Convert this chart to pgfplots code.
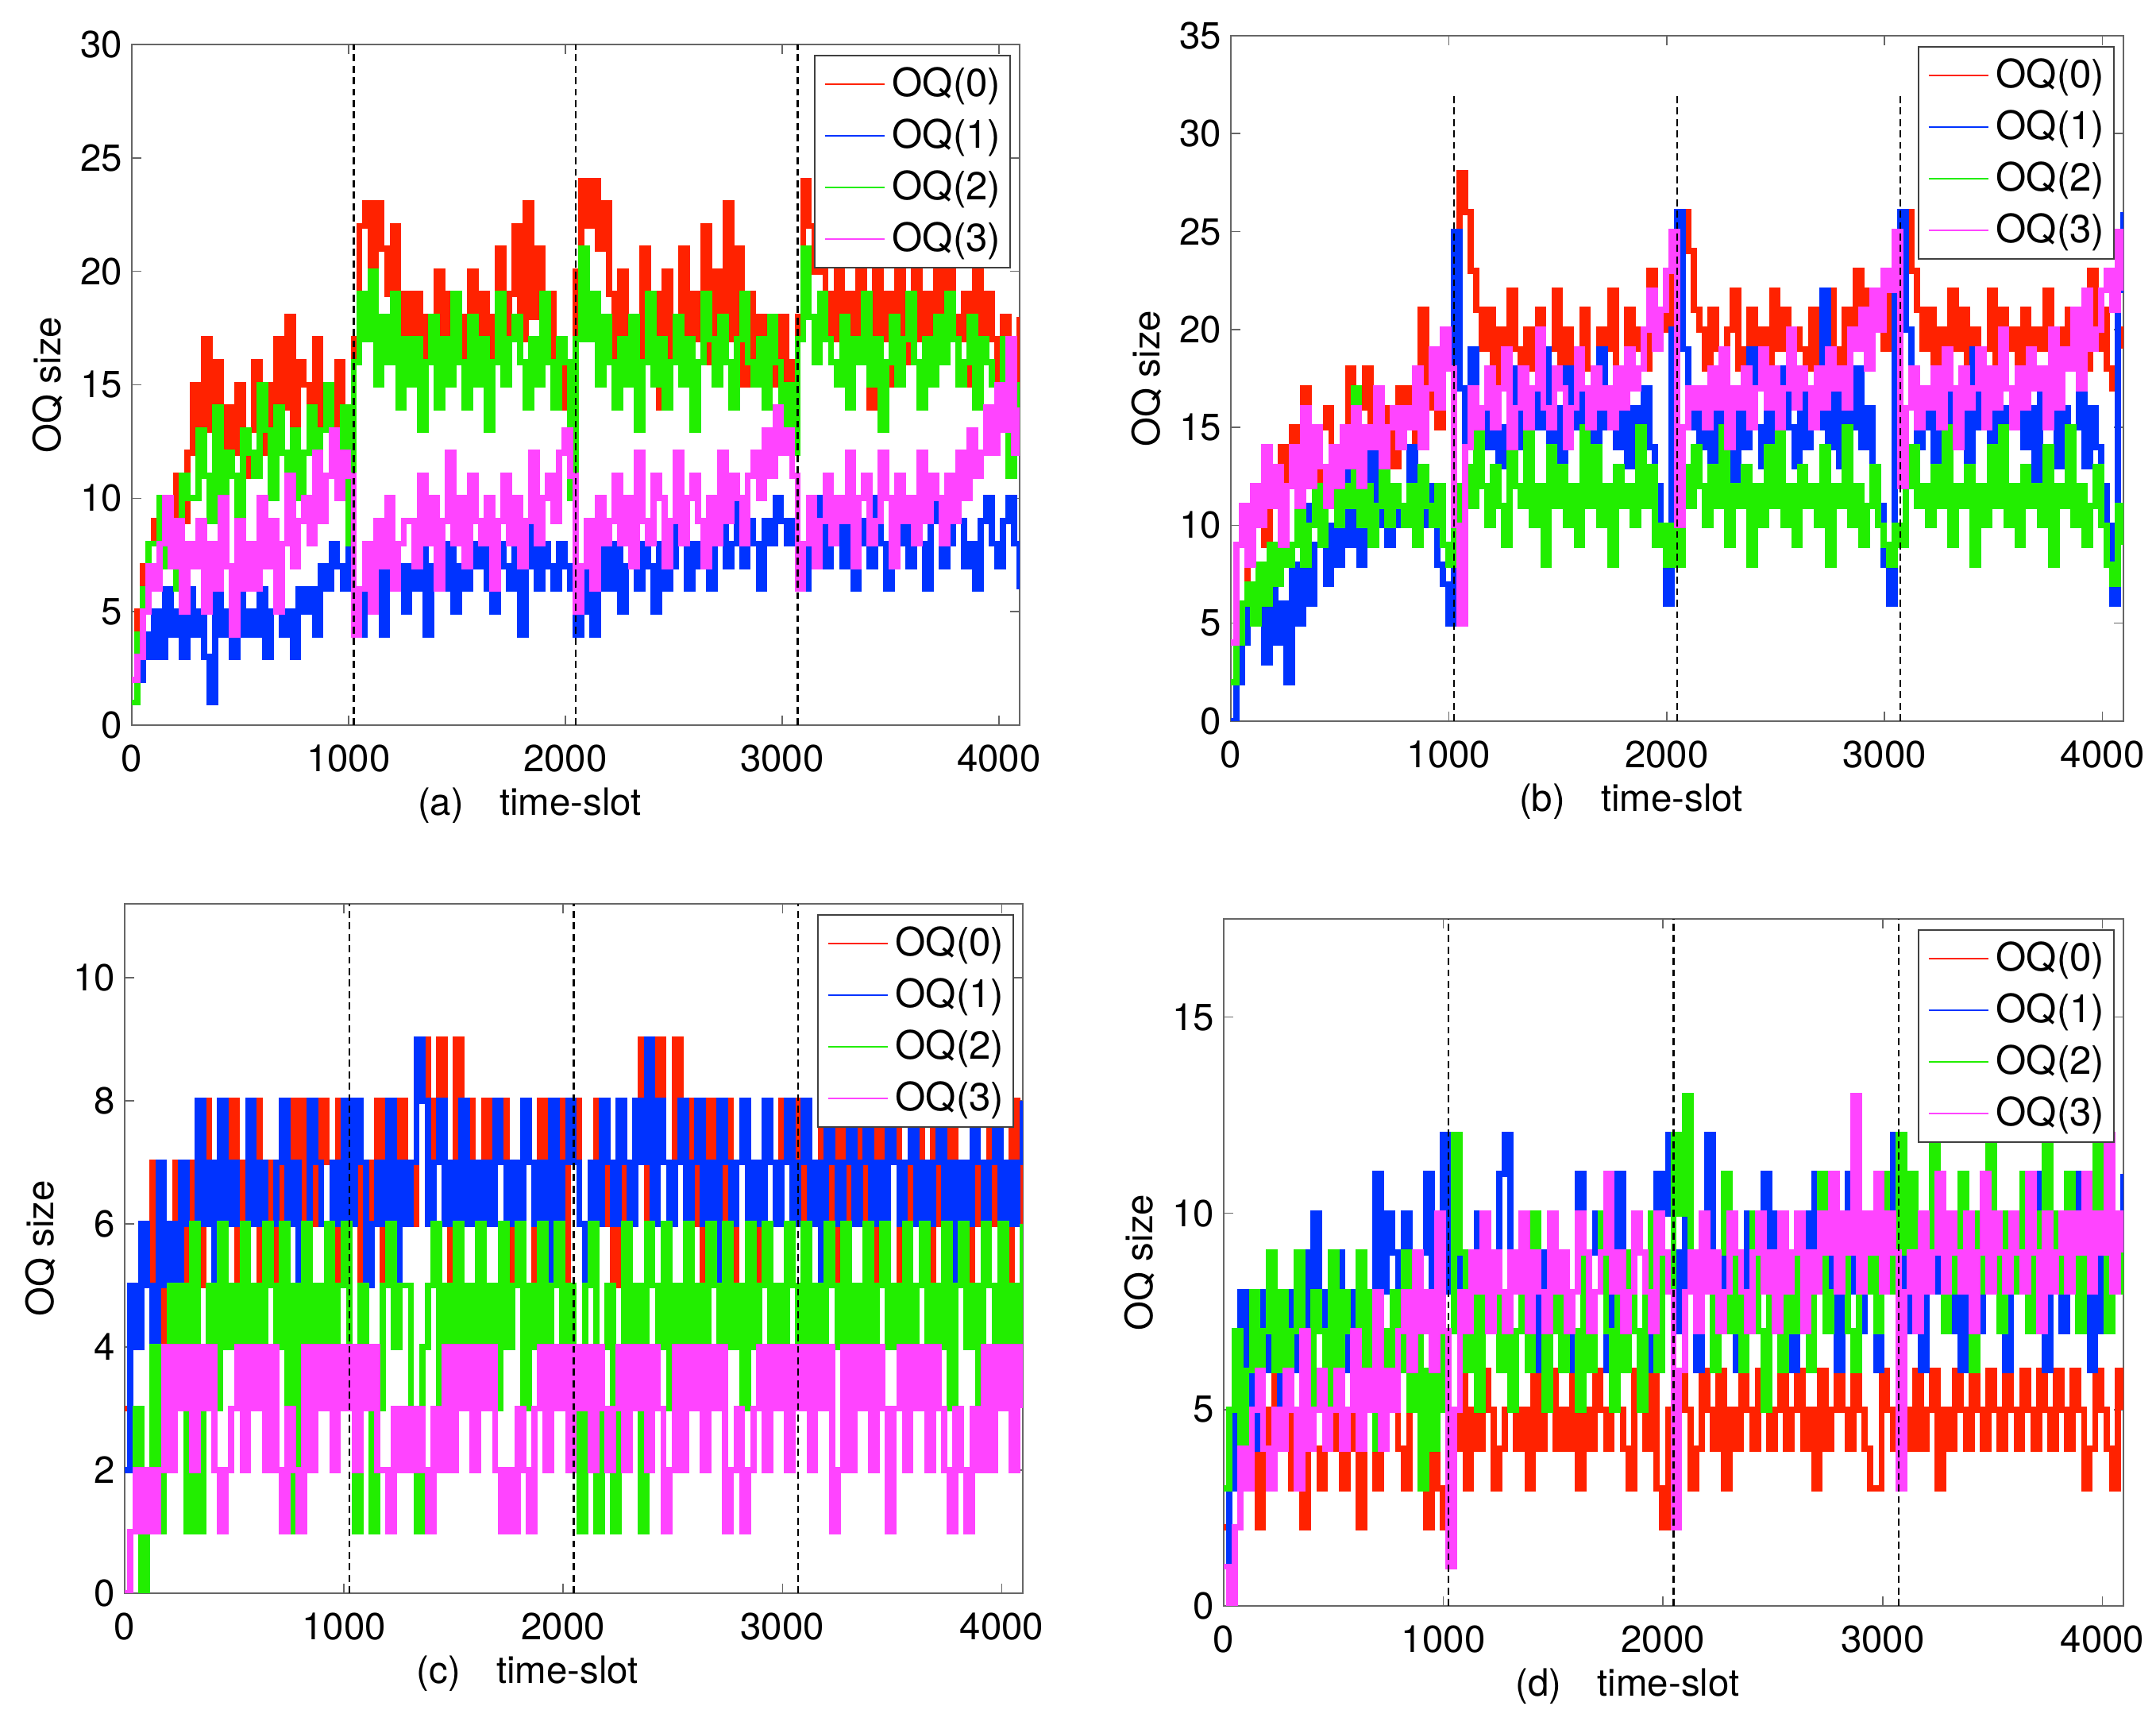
\documentclass[border=0pt]{standalone}
\usepackage{pgfplots}
\pgfplotsset{compat=1.18}
\usepackage{fontspec}
\setmainfont{TeX Gyre Heros}
\definecolor{cR}{RGB}{255,34,0}
\definecolor{cB}{RGB}{0,51,255}
\definecolor{cG}{RGB}{34,238,0}
\definecolor{cM}{RGB}{255,68,255}
\newcommand{\fs}{\fontsize{13.5}{16}\selectfont}
\newcommand{\fl}{\fontsize{14}{16}\selectfont}
\newcommand{\oq}[2]{\addplot[const plot, draw=#1, line width=2.2pt] table[x expr=\coordindex*25.6, y index=0, header=false, row sep=\\]{#2};}
\newcommand{\dl}[1]{\addplot[black, line width=0.6pt, dash pattern=on 2.5pt off 1.6pt, forget plot] coordinates {(1024,0) (1024,#1)};
\addplot[black, line width=0.6pt, dash pattern=on 2.5pt off 1.6pt, forget plot] coordinates {(2048,0) (2048,#1)};
\addplot[black, line width=0.6pt, dash pattern=on 2.5pt off 1.6pt, forget plot] coordinates {(3072,0) (3072,#1)};}
\pgfplotsset{oq/.style={
  scale only axis, xmin=0, xmax=4096, ymin=0,
  xtick={0,1000,2000,3000,4000},
  tick align=inside, major tick length=0.12cm,
  axis line style={black!60, line width=0.45pt},
  every tick/.style={black!60, line width=0.45pt},
  /pgf/number format/assume math mode=true,
  /pgf/number format/1000 sep={},
  scaled ticks=false,
  tick label style={font=\fs},
  xticklabel style={anchor=center, yshift=-0.42cm},
  yticklabel style={anchor=east, inner sep=0pt, xshift=-0.11cm},
  ylabel={OQ size},
  ylabel style={font=\fs, at={([xshift=-1.06cm]axis description cs:0,0.5)}, anchor=center},
  xlabel style={font=\fs, at={([xshift=-0.58cm,yshift=-1.01cm]axis description cs:0.5,0)}, anchor=center},
  legend style={at={(1,1)}, anchor=north east, xshift=-0.11cm, yshift=-0.13cm, draw=black!75, line width=0.45pt, font=\fl, inner xsep=0.12cm, inner ysep=0.12cm, row sep=0.17cm, column sep=0.09cm, nodes={inner sep=0pt, text height=0.40cm, text depth=0.08cm}},
  legend cell align=left,
  legend image code/.code={\draw[##1, line width=0.5pt] (0cm,0cm) -- (0.75cm,0cm);},
}}
\begin{document}
\begin{tikzpicture}
\path[use as bounding box] (0,0) rectangle (27.15,21.82);
% ---------------- (a)
\begin{axis}[oq, at={(1.66cm,12.69cm)}, anchor=south west, width=11.18cm, height=8.57cm,
  ymax=30, ytick={0,5,...,30}, xlabel={(a)\hspace{0.45cm}time-slot}]
\oq{cR}{2\\5\\7\\8\\ 9\\7\\10\\8\\11\\9\\12\\ 15\\11\\17\\13\\16\\10\\14\\12\\15\\11\\ 13\\16\\12\\15\\11\\17\\14\\18\\13\\16\\ 15\\12\\17\\13\\14\\11\\16\\13\\6\\
17\\22\\23\\20\\23\\21\\19\\22\\17\\19\\
16\\19\\14\\18\\17\\20\\15\\19\\16\\18\\14\\20\\17\\19\\15\\18\\21\\16\\19\\22\\17\\23\\18\\21\\16\\19\\15\\17\\14\\ 10\\
20\\24\\22\\24\\21\\23\\
19\\16\\20\\17\\18\\15\\21\\17\\19\\14\\20\\16\\18\\21\\15\\19\\17\\22\\16\\20\\18\\23\\17\\21\\15\\19\\16\\18\\14\\17\\15\\18\\13\\
16\\18\\24\\22\\20\\23\\19\\
17\\20\\15\\19\\16\\21\\18\\14\\20\\17\\19\\15\\21\\16\\18\\20\\17\\19\\15\\20\\16\\21\\18\\17\\19\\15\\20\\16\\19\\17\\14\\18\\16\\15\\18\\}
\oq{cB}{1\\2\\4\\3\\ 5\\3\\6\\4\\5\\3\\6\\ 4\\5\\3\\1\\6\\4\\5\\3\\6\\4\\ 5\\4\\6\\3\\5\\6\\4\\5\\3\\6\\ 5\\6\\4\\7\\6\\8\\7\\6\\8\\
5\\4\\6\\5\\7\\4\\8\\6\\7\\5\\
7\\6\\8\\4\\7\\9\\6\\8\\5\\7\\6\\8\\7\\9\\6\\5\\8\\7\\6\\8\\4\\7\\9\\6\\8\\7\\6\\8\\7\\ 6\\
4\\5\\7\\4\\6\\8\\
6\\8\\5\\7\\9\\6\\8\\7\\5\\8\\6\\7\\9\\8\\6\\8\\7\\9\\6\\8\\9\\7\\8\\10\\7\\9\\8\\6\\9\\8\\10\\9\\8\\
9\\7\\6\\9\\8\\10\\7\\
8\\9\\7\\10\\6\\8\\9\\7\\10\\8\\6\\9\\8\\10\\7\\9\\8\\6\\10\\9\\7\\8\\10\\9\\7\\8\\6\\9\\10\\8\\7\\9\\10\\8\\6\\}
\oq{cG}{1\\4\\6\\8\\ 8\\10\\7\\9\\6\\11\\10\\ 10\\13\\11\\9\\14\\10\\12\\11\\8\\13\\ 12\\11\\15\\13\\10\\14\\12\\11\\13\\10\\ 12\\14\\11\\13\\15\\12\\10\\14\\8\\
16\\19\\17\\20\\15\\18\\16\\19\\14\\17\\
15\\17\\13\\16\\18\\14\\17\\15\\19\\16\\14\\18\\15\\17\\13\\16\\19\\15\\17\\18\\16\\14\\17\\15\\19\\16\\14\\17\\16\\ 10\\
17\\21\\17\\19\\15\\18\\
16\\14\\17\\15\\18\\13\\16\\19\\15\\17\\14\\16\\18\\15\\17\\13\\16\\19\\17\\15\\18\\16\\14\\17\\19\\16\\15\\17\\14\\18\\16\\13\\15\\
12\\17\\21\\18\\16\\19\\17\\
16\\15\\18\\14\\17\\16\\19\\15\\17\\13\\16\\18\\15\\17\\19\\16\\14\\17\\15\\18\\16\\19\\17\\15\\16\\18\\14\\17\\16\\15\\13\\17\\11\\15\\12\\}
\oq{cM}{2\\3\\5\\7\\ 6\\8\\10\\7\\9\\5\\8\\ 7\\9\\5\\8\\6\\10\\7\\4\\9\\6\\ 8\\6\\10\\7\\9\\5\\8\\11\\7\\9\\ 10\\8\\12\\9\\11\\13\\10\\12\\11\\
4\\6\\8\\5\\9\\7\\10\\6\\8\\9\\
9\\7\\11\\8\\10\\6\\9\\12\\8\\10\\7\\11\\9\\8\\10\\6\\9\\11\\8\\10\\7\\9\\12\\8\\10\\11\\9\\12\\13\\
11\\5\\7\\9\\6\\10\\8\\
9\\11\\8\\10\\7\\12\\9\\8\\11\\10\\7\\9\\12\\8\\10\\11\\9\\7\\10\\8\\12\\9\\11\\10\\8\\11\\12\\10\\13\\11\\14\\12\\13\\
11\\6\\8\\10\\7\\9\\11\\
8\\10\\9\\12\\7\\10\\11\\8\\9\\12\\10\\7\\11\\9\\10\\8\\12\\9\\11\\10\\8\\11\\9\\12\\10\\13\\11\\12\\14\\12\\15\\13\\17\\12\\14\\}
\dl{30}
\legend{OQ(0),OQ(1),OQ(2),OQ(3)}
\end{axis}
% ---------------- (b)
\begin{axis}[oq, at={(15.50cm,12.74cm)}, anchor=south west, width=11.24cm, height=8.63cm,
  ymax=35, ytick={0,5,...,35}, xlabel={(b)\hspace{0.45cm}time-slot}]
\oq{cR}{0\\3\\6\\8\\ 10\\12\\9\\13\\11\\14\\12\\ 15\\13\\17\\14\\12\\15\\16\\14\\13\\15\\ 18\\14\\16\\18\\15\\17\\14\\16\\13\\17\\ 15\\17\\14\\21\\16\\18\\15\\19\\20\\
24\\28\\26\\23\\21\\
19\\21\\17\\20\\18\\22\\19\\16\\20\\18\\21\\17\\19\\22\\18\\20\\17\\19\\21\\18\\16\\20\\19\\22\\18\\17\\21\\19\\20\\18\\23\\19\\21\\20\\
24\\26\\26\\24\\21\\
20\\18\\21\\19\\17\\20\\22\\18\\19\\21\\17\\20\\18\\22\\19\\21\\17\\20\\19\\18\\21\\17\\20\\22\\19\\18\\21\\20\\23\\19\\22\\21\\20\\19\\22\\
24\\26\\26\\23\\21\\
19\\21\\18\\20\\17\\22\\19\\21\\18\\20\\17\\19\\22\\18\\21\\19\\20\\17\\21\\18\\20\\19\\22\\17\\20\\18\\21\\19\\20\\18\\23\\19\\21\\18\\17\\20\\19\\}
\oq{cB}{0\\2\\4\\6\\ 5\\7\\3\\8\\4\\6\\2\\ 8\\5\\11\\6\\9\\12\\7\\10\\8\\13\\ 9\\12\\8\\11\\14\\10\\13\\9\\12\\10\\ 11\\14\\9\\13\\10\\12\\8\\7\\5\\
25\\17\\14\\19\\15\\
16\\14\\17\\13\\15\\18\\14\\16\\12\\17\\15\\19\\14\\16\\13\\18\\15\\17\\14\\16\\12\\19\\15\\17\\14\\18\\13\\16\\15\\17\\14\\12\\10\\6\\
20\\26\\19\\15\\17\\
14\\16\\13\\18\\15\\17\\12\\16\\14\\19\\15\\13\\17\\14\\16\\18\\15\\13\\17\\14\\16\\15\\22\\14\\17\\13\\16\\15\\18\\14\\16\\13\\11\\8\\6\\
22\\26\\20\\16\\14\\
15\\17\\13\\16\\18\\14\\15\\17\\13\\19\\15\\16\\14\\18\\13\\16\\15\\17\\14\\16\\12\\18\\15\\17\\13\\16\\14\\15\\17\\13\\16\\14\\12\\10\\6\\22\\26\\}
\oq{cG}{2\\4\\6\\7\\ 5\\8\\6\\9\\7\\10\\8\\ 9\\11\\8\\10\\12\\9\\11\\13\\10\\12\\ 11\\17\\10\\12\\9\\11\\13\\10\\12\\11\\ 10\\12\\9\\13\\11\\10\\12\\9\\8\\
12\\10\\13\\11\\15\\
12\\10\\13\\11\\9\\14\\12\\11\\15\\10\\12\\8\\14\\11\\13\\10\\12\\9\\15\\11\\14\\10\\12\\8\\13\\11\\12\\10\\15\\11\\13\\9\\10\\8\\
10\\8\\13\\11\\14\\
12\\10\\13\\11\\15\\9\\12\\11\\13\\8\\12\\10\\14\\11\\15\\10\\12\\9\\13\\11\\12\\10\\14\\8\\12\\11\\15\\10\\12\\9\\11\\13\\10\\9\\8\\
10\\9\\12\\14\\11\\
12\\10\\13\\11\\15\\9\\12\\11\\13\\8\\12\\10\\14\\11\\15\\10\\12\\9\\13\\11\\12\\10\\14\\8\\12\\11\\15\\10\\12\\9\\11\\13\\10\\8\\7\\11\\9\\}
\oq{cM}{4\\9\\11\\8\\ 12\\10\\14\\11\\13\\9\\12\\ 14\\11\\16\\12\\15\\13\\11\\14\\12\\15\\ 13\\16\\12\\15\\14\\17\\13\\15\\16\\14\\ 16\\15\\18\\14\\17\\19\\16\\20\\18\\
10\\5\\14\\17\\15\\
16\\18\\15\\17\\19\\14\\16\\18\\15\\17\\20\\16\\15\\18\\17\\14\\16\\19\\17\\15\\18\\16\\17\\15\\18\\16\\19\\17\\18\\20\\22\\19\\21\\23\\
25\\10\\15\\17\\16\\
17\\15\\18\\16\\19\\14\\17\\16\\18\\15\\17\\19\\16\\18\\15\\17\\20\\16\\18\\17\\15\\18\\16\\19\\17\\18\\16\\20\\19\\21\\18\\22\\20\\23\\22\\
25\\12\\16\\18\\15\\
17\\16\\18\\15\\19\\17\\14\\18\\16\\17\\19\\15\\18\\16\\20\\17\\15\\18\\16\\19\\17\\18\\15\\20\\16\\19\\18\\21\\17\\22\\19\\20\\22\\23\\21\\25\\22\\}
\dl{32}
\legend{OQ(0),OQ(1),OQ(2),OQ(3)}
\end{axis}
% ---------------- (c)
\begin{axis}[oq, at={(1.57cm,1.76cm)}, anchor=south west, width=11.31cm, height=8.68cm,
  ymax=11.2, ytick={0,2,...,10}, xlabel={(c)\hspace{0.45cm}time-slot}]
\oq{cR}{3\\5\\4\\6\\5\\7\\4\\6\\5\\7\\ 6\\4\\7\\5\\8\\6\\5\\7\\6\\8\\ 5\\7\\6\\8\\5\\7\\6\\4\\7\\8\\ 6\\8\\5\\7\\6\\8\\7\\5\\8\\6\\
7\\8\\5\\7\\6\\8\\5\\7\\6\\8\\ 7\\6\\8\\9\\6\\8\\9\\7\\5\\9\\ 6\\8\\7\\5\\8\\6\\7\\8\\5\\7\\ 6\\8\\7\\5\\8\\7\\6\\8\\5\\7\\
8\\6\\5\\7\\8\\6\\7\\5\\8\\6\\ 7\\8\\9\\6\\8\\9\\7\\6\\9\\7\\ 8\\6\\7\\5\\8\\7\\6\\8\\5\\7\\ 8\\6\\7\\5\\8\\7\\6\\8\\7\\6\\
8\\5\\7\\6\\8\\7\\5\\8\\6\\7\\ 8\\6\\7\\5\\8\\6\\7\\8\\5\\7\\ 6\\8\\7\\5\\8\\6\\7\\8\\6\\7\\ 5\\8\\6\\7\\8\\6\\7\\5\\8\\7\\6\\}
\oq{cB}{2\\5\\4\\6\\5\\4\\7\\5\\6\\5\\ 7\\6\\5\\8\\6\\7\\5\\8\\6\\7\\ 6\\5\\8\\6\\7\\5\\6\\7\\8\\6\\ 7\\5\\6\\8\\7\\6\\5\\7\\6\\8\\
6\\8\\7\\5\\6\\7\\6\\8\\5\\7\\ 6\\7\\9\\8\\6\\7\\8\\6\\7\\6\\ 8\\6\\7\\5\\7\\6\\8\\7\\6\\7\\ 6\\8\\7\\6\\7\\5\\8\\6\\7\\8\\
7\\6\\5\\7\\6\\8\\7\\6\\8\\7\\ 6\\8\\7\\9\\6\\8\\7\\6\\7\\8\\ 6\\7\\8\\6\\7\\5\\8\\7\\6\\7\\ 8\\6\\7\\6\\8\\7\\6\\7\\8\\6\\
7\\8\\6\\7\\5\\8\\7\\6\\7\\8\\ 6\\7\\8\\6\\7\\6\\8\\7\\6\\7\\ 8\\6\\7\\6\\7\\8\\6\\7\\5\\7\\ 6\\8\\7\\6\\7\\8\\6\\7\\6\\7\\8\\}
\oq{cG}{0\\1\\3\\0\\2\\4\\1\\3\\5\\3\\ 5\\1\\6\\1\\4\\5\\3\\6\\4\\5\\ 3\\6\\4\\5\\3\\6\\5\\4\\6\\1\\ 5\\1\\6\\4\\5\\3\\6\\4\\5\\6\\
3\\1\\5\\4\\1\\3\\5\\6\\4\\5\\ 5\\3\\1\\4\\5\\6\\3\\5\\4\\6\\ 3\\5\\4\\6\\4\\5\\3\\6\\4\\5\\ 6\\3\\5\\4\\6\\3\\5\\6\\4\\5\\
3\\1\\5\\6\\1\\4\\5\\1\\3\\6\\ 4\\5\\1\\6\\5\\4\\6\\3\\5\\4\\ 6\\3\\5\\4\\6\\5\\3\\6\\4\\5\\ 3\\6\\4\\5\\6\\3\\5\\4\\6\\5\\
3\\6\\4\\5\\3\\6\\5\\4\\6\\3\\ 5\\4\\6\\3\\5\\6\\4\\5\\3\\6\\ 4\\5\\6\\3\\5\\4\\6\\3\\5\\6\\ 4\\5\\3\\6\\5\\4\\6\\3\\5\\4\\6\\}
\oq{cM}{0\\1\\2\\1\\2\\1\\2\\ 4\\2\\4\\3\\4\\2\\4\\3\\4\\2\\ 1\\2\\3\\ 4\\2\\4\\3\\4\\2\\4\\ 2\\1\\3\\2\\1\\
4\\2\\4\\3\\4\\2\\4\\3\\4\\2\\4\\3\\4\\2\\ 2\\1\\3\\2\\3\\2\\3\\2\\1\\3\\2\\ 4\\2\\4\\3\\4\\2\\4\\3\\4\\ 2\\1\\2\\1\\3\\2\\1\\
3\\4\\2\\4\\3\\4\\2\\4\\3\\4\\2\\4\\3\\ 2\\3\\ 4\\2\\4\\3\\4\\2\\4\\3\\ 1\\2\\ 4\\2\\4\\3\\4\\2\\4\\3\\4\\ 1\\2\\3\\1\\2\\3\\
4\\2\\4\\3\\4\\2\\4\\3\\4\\2\\4\\3\\4\\ 1\\2\\ 4\\2\\4\\3\\4\\2\\4\\3\\ 1\\3\\ 4\\2\\4\\3\\4\\2\\4\\3\\ 2\\1\\3\\2\\1\\3\\2\\ 4\\2\\4\\3\\4\\2\\4\\3\\}
\dl{11.2}
\legend{OQ(0),OQ(1),OQ(2),OQ(3)}
\end{axis}
% ---------------- (d)
\begin{axis}[oq, at={(15.41cm,1.60cm)}, anchor=south west, width=11.33cm, height=8.65cm,
  ymax=17.5, ytick={0,5,10,15}, xlabel={(d)\hspace{0.45cm}time-slot}]
\oq{cR}{2\\4\\3\\5\\6\\4\\2\\5\\3\\6\\ 4\\7\\3\\5\\2\\6\\4\\3\\5\\4\\ 6\\3\\5\\4\\2\\6\\5\\3\\4\\5\\ 6\\4\\3\\5\\6\\4\\2\\5\\3\\2\\
5\\4\\6\\3\\5\\4\\6\\5\\3\\4\\ 5\\6\\4\\5\\3\\6\\4\\5\\6\\4\\ 5\\4\\6\\3\\5\\4\\6\\5\\4\\6\\ 5\\4\\3\\6\\5\\4\\6\\3\\2\\5\\
4\\6\\5\\3\\4\\6\\5\\4\\6\\3\\ 5\\4\\6\\5\\4\\6\\5\\4\\5\\6\\ 4\\5\\6\\4\\5\\3\\6\\4\\5\\6\\ 5\\4\\6\\5\\4\\3\\3\\6\\5\\4\\
6\\5\\4\\6\\4\\5\\6\\3\\5\\4\\ 6\\5\\4\\6\\5\\4\\6\\5\\4\\6\\ 5\\4\\6\\5\\4\\6\\5\\4\\6\\5\\ 4\\6\\5\\3\\4\\6\\5\\4\\3\\6\\5\\}
\oq{cB}{1\\3\\6\\8\\5\\7\\4\\8\\6\\7\\ 5\\8\\6\\7\\9\\6\\10\\7\\8\\6\\ 9\\7\\6\\8\\9\\7\\6\\11\\8\\10\\ 9\\7\\10\\8\\6\\9\\11\\7\\10\\12\\
8\\10\\7\\9\\6\\10\\8\\9\\7\\11\\ 12\\8\\9\\7\\10\\6\\9\\8\\10\\7\\ 9\\6\\8\\11\\7\\9\\10\\8\\6\\9\\ 11\\7\\8\\10\\9\\6\\8\\11\\10\\12\\
9\\7\\10\\8\\6\\9\\12\\8\\7\\10\\ 9\\6\\8\\10\\7\\9\\11\\8\\10\\7\\ 9\\6\\8\\10\\7\\11\\9\\8\\10\\6\\ 9\\11\\8\\7\\10\\9\\6\\8\\10\\12\\
9\\7\\10\\8\\6\\9\\11\\8\\10\\7\\ 9\\6\\8\\10\\7\\9\\11\\8\\10\\6\\ 9\\8\\10\\7\\11\\9\\6\\8\\10\\7\\ 9\\11\\8\\10\\6\\9\\7\\10\\8\\9\\11\\}
\oq{cG}{3\\5\\7\\4\\6\\8\\5\\7\\9\\6\\ 8\\5\\7\\9\\6\\4\\8\\7\\5\\9\\ 6\\8\\7\\5\\9\\6\\8\\4\\7\\5\\ 8\\6\\9\\5\\7\\3\\6\\4\\8\\5\\
7\\12\\9\\6\\8\\5\\10\\7\\9\\6\\ 8\\5\\7\\9\\6\\10\\8\\5\\7\\9\\ 6\\8\\7\\5\\9\\6\\8\\10\\7\\5\\ 8\\6\\9\\7\\5\\8\\10\\6\\9\\8\\
12\\10\\13\\9\\7\\10\\8\\6\\9\\11\\ 7\\9\\6\\8\\10\\7\\5\\9\\8\\6\\ 9\\7\\10\\8\\6\\9\\11\\7\\8\\10\\ 9\\7\\6\\10\\8\\9\\7\\11\\10\\8\\
12\\9\\11\\7\\10\\8\\12\\9\\7\\10\\ 8\\11\\9\\6\\10\\8\\12\\9\\7\\10\\ 8\\9\\11\\7\\10\\8\\12\\9\\10\\8\\ 11\\9\\7\\10\\8\\12\\9\\7\\10\\8\\9\\}
\oq{cM}{1\\0\\2\\4\\3\\5\\6\\4\\3\\5\\ 4\\6\\5\\3\\7\\4\\5\\6\\4\\5\\ 6\\4\\5\\7\\4\\6\\5\\8\\4\\6\\ 5\\7\\8\\6\\9\\7\\8\\6\\10\\7\\
1\\5\\8\\7\\9\\8\\10\\7\\9\\8\\ 7\\9\\8\\10\\7\\9\\8\\7\\10\\8\\ 9\\7\\8\\10\\9\\7\\8\\9\\11\\8\\ 9\\7\\8\\10\\9\\8\\7\\10\\9\\8\\
2\\6\\8\\9\\7\\10\\8\\9\\7\\8\\ 10\\9\\8\\7\\9\\10\\8\\9\\7\\10\\ 8\\9\\10\\7\\9\\8\\10\\9\\11\\8\\ 10\\9\\13\\8\\10\\9\\11\\8\\10\\9\\
3\\8\\9\\7\\10\\8\\9\\11\\8\\10\\ 9\\8\\10\\7\\9\\11\\8\\10\\9\\8\\ 10\\9\\8\\11\\9\\7\\10\\8\\9\\10\\ 8\\10\\9\\11\\8\\10\\9\\12\\8\\10\\9\\}
\dl{17.5}
\legend{OQ(0),OQ(1),OQ(2),OQ(3)}
\end{axis}
\end{tikzpicture}
\end{document}
